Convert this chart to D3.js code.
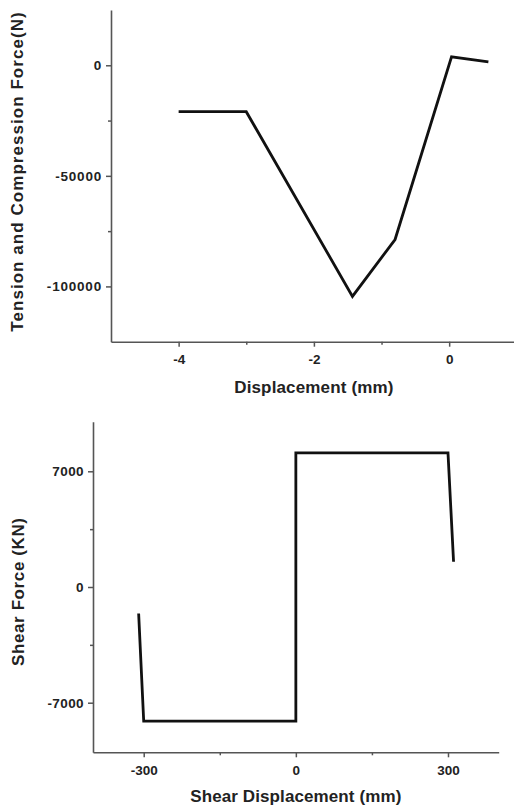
<!DOCTYPE html>
<html><head><meta charset="utf-8">
<script src="https://cdn.jsdelivr.net/npm/d3@7"></script>
<style>
body{margin:0;background:#fff;}
svg{display:block;}
text{font-family:"Liberation Sans",Arial,sans-serif;font-weight:bold;fill:#222;}
</style></head>
<body>
<svg id="c" width="514" height="807"></svg>
<script>
// Top chart data
const topX = [-4, -3, -1.43, -0.80, 0.035, 0.58];
const topY = [-21000, -21000, -104500, -78800, 3800, 1500];
const topXTicks = [-4, -2, 0];
const topXMinor = [-3, -1];
const topYTicks = [0, -50000, -100000];
const topYMinor = [-25000, -75000];
const topXLabel = "Displacement (mm)";
const topYLabel = "Tension and Compression Force(N)";

// Bottom chart data
const botX = [-310, -300, 0, 0, 300, 311];
const botY = [-1600, -8120, -8120, 8110, 8110, 1530];
const botXTicks = [-300, 0, 300];
const botXMinor = [-150, 150];
const botYTicks = [7000, 0, -7000];
const botYMinor = [3500, -3500];
const botXLabel = "Shear Displacement (mm)";
const botYLabel = "Shear Force (KN)";

const svg = d3.select("#c");

function panel(o){
  const x = d3.scaleLinear().domain(o.xDomain).range([o.left, o.right]);
  const y = d3.scaleLinear().domain(o.yDomain).range([o.bottom, o.top]);
  const g = svg.append("g");
  // minor ticks
  const gxm = g.append("g").attr("transform",`translate(0,${o.bottom})`)
    .call(d3.axisBottom(x).tickValues(o.xMinor).tickSize(3).tickFormat(""));
  const gym = g.append("g").attr("transform",`translate(${o.left},0)`)
    .call(d3.axisLeft(y).tickValues(o.yMinor).tickSize(3).tickFormat(""));
  [gxm,gym].forEach(a=>{a.select(".domain").remove();a.selectAll("line").attr("stroke","#555").attr("stroke-width",1.5);});
  // major axes
  const gx = g.append("g").attr("transform",`translate(0,${o.bottom})`)
    .call(d3.axisBottom(x).tickValues(o.xTicks).tickSize(5).tickPadding(o.xPad).tickSizeOuter(0).tickFormat(d3.format("d")));
  const gy = g.append("g").attr("transform",`translate(${o.left},0)`)
    .call(d3.axisLeft(y).tickValues(o.yTicks).tickSize(5).tickPadding(4).tickSizeOuter(0).tickFormat(d3.format("d")));
  [gx,gy].forEach(a=>{
    a.select(".domain").attr("stroke","#555").attr("stroke-width",1.6);
    a.selectAll("line").attr("stroke","#555").attr("stroke-width",1.5);
    a.selectAll("text").attr("fill","#1a1a1a").style("font-size","13.5px").style("font-family",'"Liberation Sans",Arial,sans-serif').style("font-weight","bold");
  });
  gy.selectAll("text").style("letter-spacing",o.yTickLS+"px");
  gx.selectAll("text").text(d=>String(d));
  gy.selectAll("text").text(d=>String(d));
  // line
  const pts = o.xs.map((v,i)=>[v,o.ys[i]]);
  g.append("path").datum(pts)
    .attr("d", d3.line().x(d=>x(d[0])).y(d=>y(d[1])))
    .attr("fill","none").attr("stroke","#111").attr("stroke-width",2.8).attr("stroke-linejoin","miter");
  // labels
  g.append("text").attr("x",(x(o.xCenter))).attr("y",o.xLabelY).attr("text-anchor","middle")
    .style("font-size","17px").style("letter-spacing",o.xLS+"px").text(o.xLabel);
  g.append("text").attr("transform",`translate(${o.yLabelX},${o.yLabelCY}) rotate(-90)`).attr("text-anchor","middle")
    .style("font-size","17px").style("letter-spacing",o.yLS+"px").text(o.yLabel);
}

panel({xDomain:[-5,1], yDomain:[-125000,25000], left:111, right:516.8, top:10, bottom:341.7,
  xs:topX, ys:topY, xTicks:topXTicks, xMinor:topXMinor, yTicks:topYTicks, yMinor:topYMinor,
  xPad:8, yTickLS:0.8, xCenter:-2, xLabelY:393, xLabel:topXLabel, xLS:0.15,
  yLabelX:23, yLabelCY:171.5, yLabel:topYLabel, yLS:1.05});

panel({xDomain:[-400,400], yDomain:[-10000,10000], left:93, right:498.7, top:421.7, bottom:752.3,
  xs:botX, ys:botY, xTicks:botXTicks, xMinor:botXMinor, yTicks:botYTicks, yMinor:botYMinor,
  xPad:8, yTickLS:0.4, xCenter:0, xLabelY:802, xLabel:botXLabel, xLS:0.1,
  yLabelX:24, yLabelCY:591.7, yLabel:botYLabel, yLS:0.6});
</script>
</body></html>
